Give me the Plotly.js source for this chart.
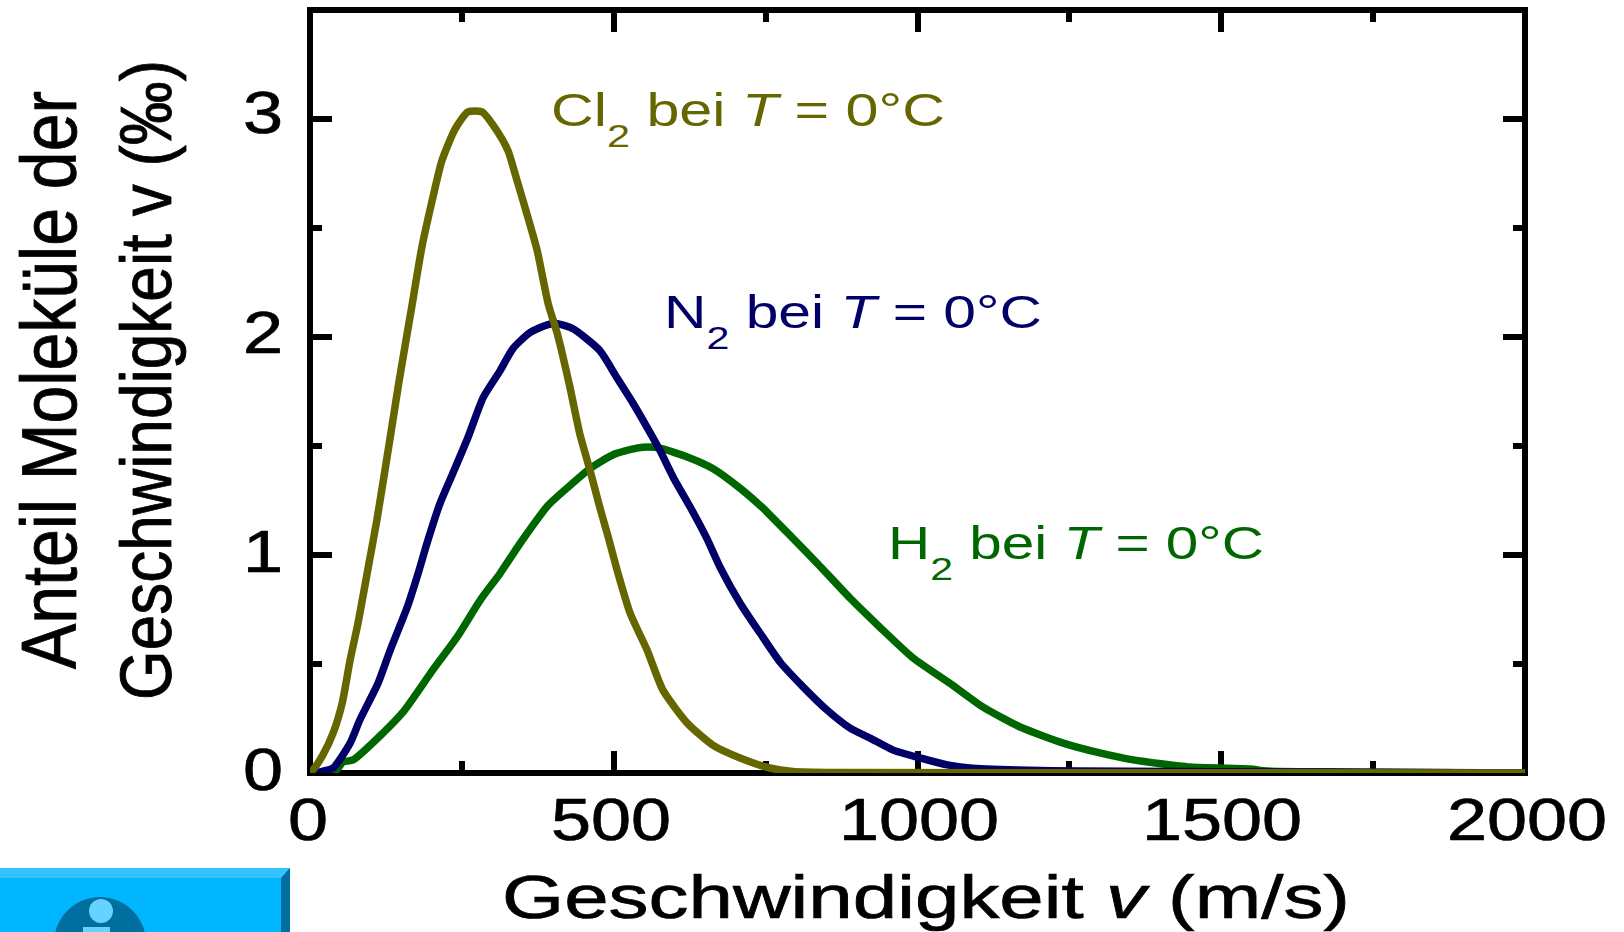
<!DOCTYPE html>
<html>
<head>
<meta charset="utf-8">
<script src="https://cdn.plot.ly/plotly-3.0.1.min.js"></script>
<style>html,body{margin:0;padding:0;background:#fff;overflow:hidden}</style>
</head>
<body>
<div id="chart" style="width:1624px;height:932px"></div>
<script>
const cl2Speed = [0,5,21,38,53,66,79,95,110,120,133,146,158,170,184,201,217,239,260,283,308,326,341,357,374,392,407,428,444,461,477,491,507,527,555,581,621,663,708,757,795,872,2000];
const cl2Share = [0,0.014,0.082,0.183,0.321,0.518,0.687,0.93,1.159,1.33,1.557,1.787,1.984,2.18,2.41,2.625,2.808,2.955,3.033,3.033,2.945,2.854,2.716,2.565,2.396,2.153,2.016,1.768,1.557,1.388,1.219,1.081,0.916,0.733,0.563,0.38,0.229,0.128,0.069,0.023,0.007,0.002,0];
const n2Speed = [10,16,38,66,82,112,132,160,178,194,214,235,260,285,313,334,362,392,407,433,477,505,532,556,576,598,626,653,675,708,741,774,812,851,889,922,960,1004,1049,1086,1164,1263,2000];
const n2Share = [0,0.005,0.023,0.137,0.243,0.412,0.563,0.76,0.916,1.067,1.237,1.374,1.539,1.722,1.846,1.947,2.02,2.057,2.061,2.038,1.938,1.814,1.695,1.58,1.48,1.356,1.219,1.077,0.944,0.779,0.641,0.508,0.394,0.289,0.206,0.16,0.105,0.069,0.037,0.023,0.014,0.009,0];
const h2Speed = [30,44,54,71,120,153,202,242,280,313,346,392,428,461,499,538,557,576,621,663,708,746,795,835,889,938,993,1053,1108,1169,1240,1300,1355,1449,1547,1575,1715,2000];
const h2Share = [0,0.014,0.05,0.06,0.183,0.279,0.472,0.623,0.792,0.916,1.054,1.228,1.319,1.397,1.46,1.49,1.495,1.49,1.45,1.397,1.306,1.214,1.076,0.962,0.802,0.669,0.527,0.412,0.302,0.211,0.137,0.092,0.06,0.027,0.018,0.009,0.005,0];

const xTitle = 'Geschwindigkeit <i>v</i> (m/s)';
const yTitle = '<span style="font-size:68px">Anteil Moleküle der</span><br>Geschwindigkeit v (‰)';
const labelCl2 = 'Cl<sub>2</sub> bei <i>T</i> = 0°C';
const labelN2 = 'N<sub>2</sub> bei <i>T</i> = 0°C';
const labelH2 = 'H<sub>2</sub> bei <i>T</i> = 0°C';
const colorCl2 = '#666600', colorN2 = '#000066', colorH2 = '#006600';

const L = 310, R = 1525, T = 10, B = 773;
const px = v => (v - L) / (R - L);
const py = v => (B - v) / (B - T);
const paperShape = o => Object.assign({xref:'paper', yref:'paper', layer:'below'}, o);

const line = (x, y, color) => ({x, y, type:'scatter', mode:'lines', line:{color, width:7.5, shape:'spline', smoothing:0.6}, hoverinfo:'skip', showlegend:false});
const traces = [line(h2Speed,h2Share,colorH2), line(n2Speed,n2Share,colorN2), line(cl2Speed,cl2Share,colorCl2)];

const axisFont = {family:'"Liberation Sans", Arial, sans-serif', size:60, color:'#000'};
const ann = (text, x, y, color) => ({text, x, y, xref:'x', yref:'y', xanchor:'left', yanchor:'middle', showarrow:false, font:{family:'"Liberation Sans", Arial, sans-serif', size:46, color}});

const layout = {
  width:1624, height:932, paper_bgcolor:'#fff', plot_bgcolor:'#fff',
  margin:{l:L, r:1624-R, t:T, b:932-B, pad:0},
  showlegend:false,
  xaxis:{range:[0,2000], tick0:0, dtick:500, ticks:'inside', ticklen:22, tickwidth:6, tickcolor:'#000', mirror:'allticks', showgrid:false, zeroline:false, showline:false, layer:'below traces',
    minor:{dtick:250, ticks:'inside', ticklen:12, tickwidth:6, tickcolor:'#000', showgrid:false},
    tickfont:axisFont, title:{text:xTitle, font:Object.assign({}, axisFont, {size:62}), standoff:10}, automargin:false},
  yaxis:{range:[0,3.5], tick0:0, dtick:1, ticks:'inside', ticklen:22, tickwidth:6, tickcolor:'#000', mirror:'allticks', showgrid:false, zeroline:false, showline:false, layer:'below traces',
    minor:{dtick:0.5, ticks:'inside', ticklen:12, tickwidth:6, tickcolor:'#000', showgrid:false},
    tickfont:axisFont, title:{text:yTitle, font:Object.assign({}, axisFont, {size:64})}, automargin:false},
  annotations:[ann(labelCl2,400,3.05,colorCl2), ann(labelN2,583,2.12,colorN2), ann(labelH2,950,1.06,colorH2)],
  shapes:[
    paperShape({type:'rect', x0:0, x1:1, y0:0, y1:1, line:{color:'#000', width:6}, fillcolor:'rgba(0,0,0,0)'}),
    paperShape({type:'rect', x0:px(0), x1:px(290), y0:py(868), y1:py(932), line:{width:0}, fillcolor:'#00B7FF'}),
    paperShape({type:'path', path:`M ${px(0)} ${py(868)} L ${px(290)} ${py(868)} L ${px(281)} ${py(878)} L ${px(0)} ${py(878)} Z`, line:{width:0}, fillcolor:'#33C4FF'}),
    paperShape({type:'path', path:`M ${px(290)} ${py(868)} L ${px(290)} ${py(932)} L ${px(281)} ${py(932)} L ${px(281)} ${py(878)} Z`, line:{width:0}, fillcolor:'#006E9E'}),
    paperShape({type:'circle', x0:px(54), x1:px(146), y0:py(897), y1:py(989), line:{width:0}, fillcolor:'#006E9E'}),
    paperShape({type:'circle', x0:px(89), x1:px(113), y0:py(899), y1:py(923), line:{width:0}, fillcolor:'#66D2FF'}),
    paperShape({type:'rect', x0:px(83), x1:px(110), y0:py(927), y1:py(932), line:{width:0}, fillcolor:'#66D2FF'})
  ]
};

// The reference image is stretched horizontally; reproduce that on the drawn text.
function place(el, o){
  const r = el.getBoundingClientRect();
  const sx = o.width ? o.width / r.width : (o.sx || 1);
  let b;
  if (o.left !== undefined) b = o.left - sx * r.left;
  else if (o.cx !== undefined) b = o.cx - sx * (r.left + r.right) / 2;
  else b = (r.left + r.right) / 2 * (1 - sx);
  const t = el.parentNode.getScreenCTM();
  const e = sx * t.e + b - t.e;
  const f = (o.cy !== undefined ? o.cy - (r.top + r.bottom) / 2 : 0) + (o.dy || 0);
  el.setAttribute('transform', `matrix(${sx},0,0,1,${e},${f}) ${el.getAttribute('transform') || ''}`);
  if (o.stroke) { el.style.stroke = o.stroke; el.style.strokeWidth = '0.7px'; }
}

Plotly.newPlot('chart', traces, layout, {displayModeBar:false, staticPlot:true}).then(gd => {
  gd.querySelectorAll('.main-svg text').forEach(t => { if (!t.textContent.trim()) t.remove(); });
  const xCenters = {'0':308,'500':611,'1000':919,'1500':1222,'2000':1527};
  gd.querySelectorAll('.xtick text').forEach(t => place(t, {sx:1.2, cx:xCenters[t.textContent], cy:820, stroke:'#000'}));
  const yCenters = {'0':769,'1':551,'2':332,'3':112};
  gd.querySelectorAll('.ytick text').forEach(t => place(t, {sx:1.2, cx:263, cy:yCenters[t.textContent], stroke:'#000'}));
  place(gd.querySelector('.g-xtitle text'), {width:848, left:502, cy:897, stroke:'#000'});
  place(gd.querySelector('.g-ytitle text'), {sx:1.14, cx:96, cy:380, stroke:'#000'});
  const anns = gd.querySelectorAll('.annotation-text-g text');
  anns.forEach(t => t.querySelectorAll('tspan').forEach(s => {
    if (s.getAttribute('dy') === '0.3em') s.setAttribute('dy', '21px');
    if (s.getAttribute('dy') === '-0.21em') s.setAttribute('dy', '-21px');
  }));
  const boxes = [[551,394,119],[664,378,321],[888,376,552]];
  anns.forEach((t,i) => place(t, {width:boxes[i][1], left:boxes[i][0], cy:boxes[i][2]}));
});
</script>
</body>
</html>
